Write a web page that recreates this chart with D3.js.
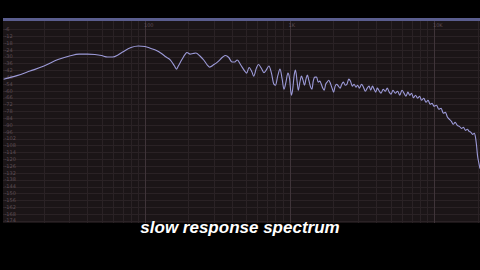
<!DOCTYPE html>
<html>
<head>
<meta charset="utf-8">
<script src="https://cdn.jsdelivr.net/npm/d3@7"></script>
<style>
  html, body { margin: 0; padding: 0; background: #000; overflow: hidden; }
</style>
</head>
<body>
<div id="chart"></div>
<script>
// Spectrum readings: frequency (Hz) and level (dB)
const freqs = [10.5, 13, 16, 20, 25, 30, 35, 40, 45, 50, 55, 60, 65, 70, 80, 90, 100, 110, 120, 130,
  140, 150, 160, 165, 170, 180, 190, 195, 205, 215, 225, 240, 255, 270, 280, 300, 320, 345, 360, 380,
  400, 415, 435, 460, 490, 505, 525, 550, 565, 590, 610, 640, 665, 690, 720, 750, 780, 800, 830, 860,
  890, 915, 945, 975, 1000, 1030, 1050, 1080, 1100, 1130, 1150, 1180, 1210, 1240, 1270, 1300, 1330, 1360, 1400, 1430,
  1460, 1500, 1540, 1580, 1620, 1660, 1700, 1740, 1780, 1820, 1870, 1920, 1970, 2020, 2070, 2120, 2180, 2240, 2300, 2360,
  2430, 2500, 2570, 2640, 2720, 2800, 2880, 2960, 3050, 3150, 3250, 3350, 3450, 3550, 3650, 3750, 3850, 3950, 4050, 4150,
  4300, 4450, 4600, 4750, 4900, 5050, 5200, 5400, 5600, 5800, 6000, 6200, 6400, 6600, 6800, 7000, 7200, 7450, 7700, 7950,
  8200, 8500, 8800, 9100, 9400, 9700, 10000, 10400, 10800, 11200, 11600, 12000, 12400, 12800, 13200, 13600, 14000, 14500, 15000, 15500,
  16000, 16500, 17000, 17500, 18000, 18500, 19000, 19400, 19700, 20000, 20400, 20800];
const levels = [-49.8, -46.7, -42.7, -38.3, -32.6, -29.5, -27.8, -27.8, -28.2, -29.1, -30.4, -30.4, -28.6, -26, -22, -20.7, -21.1, -22.9, -24.7, -27.3,
  -30.4, -33, -38.3, -41, -38.3, -32.6, -27.8, -26.4, -27.8, -27.3, -26.9, -29.5, -33, -37.4, -39.2, -37, -34.4, -30.4, -29.1, -30.8,
  -34.8, -34.8, -33, -37.4, -42.7, -44.5, -39.6, -43.6, -47.1, -40.1, -37, -40.5, -44.1, -41.9, -38.3, -44.5, -54.2, -55.1, -46.7, -41,
  -49.8, -58.6, -52.4, -44.5, -48.9, -63.9, -59.5, -45.4, -41.9, -52.4, -59.5, -52.4, -47.1, -50.7, -55.1, -49.8, -46.3, -50.7, -56.8, -58.6,
  -51.5, -48, -48, -52.4, -51.5, -54.2, -57.7, -59.5, -54.2, -52.4, -50.7, -53.6, -57.7, -61.2, -55.9, -54.2, -55.9, -57.7, -54.2, -52.4,
  -55.1, -54.2, -49.8, -51.5, -55.9, -54.2, -56.8, -55.1, -57.7, -54.2, -56.8, -60.4, -57.7, -55.9, -59.5, -55.9, -58.6, -61.2, -57.7, -59.5,
  -62.1, -58.6, -60.4, -57.7, -61.2, -63, -59.5, -62.1, -60.4, -63.9, -59.5, -62.1, -64.8, -61.2, -63.9, -62.1, -66.1, -63.9, -66.5, -64.8,
  -68.3, -66.5, -70, -68.3, -71.8, -70.9, -73.6, -72.7, -76.2, -75.3, -79.7, -78.9, -83.3, -85, -86.8, -89.4, -87.7, -90.3, -91.2, -93,
  -92.1, -94.7, -93.8, -95.6, -96.5, -98.2, -97.4, -101.3, -108, -116.7, -122.9, -128.2];

const dbTicks = [-6, -12, -18, -24, -30, -36, -42, -48, -54, -60, -66, -72, -78, -84, -90, -96, -102, -108,
  -114, -120, -126, -132, -138, -144, -150, -156, -162, -168, -174];
const gridFreqs = [20, 30, 40, 50, 60, 70, 80, 90, 200, 300, 400, 500, 600, 700, 800, 900,
  2000, 3000, 4000, 5000, 6000, 7000, 8000, 9000, 20000];
const majorFreqs = [100, 1000, 10000];
const majorLabels = ["100", "1K", "10K"];

const width = 480, height = 270;
const plot = { left: 3, right: 480, top: 21, bottom: 223 };

const svg = d3.select("#chart").append("svg")
  .attr("width", width)
  .attr("height", height);

svg.append("rect").attr("width", width).attr("height", height).attr("fill", "#000");

// log frequency, linear dB
const x = d3.scaleLog().domain([10, 20000]).range([0.5, 477.5]);
const y = d3.scaleLinear().domain([0, -176]).range([22.4, 223]);

// plot background + top bar
svg.append("rect")
  .attr("x", plot.left).attr("y", plot.top)
  .attr("width", plot.right - plot.left).attr("height", plot.bottom - plot.top)
  .attr("fill", "#1b1517");
svg.append("rect")
  .attr("x", plot.left).attr("y", 18)
  .attr("width", plot.right - plot.left).attr("height", 3)
  .attr("fill", "#5a5d8e");

const grid = svg.append("g");

grid.selectAll(".hgrid")
  .data(dbTicks)
  .join("line")
  .attr("x1", plot.left).attr("x2", plot.right)
  .attr("y1", d => Math.round(y(d)) + 0.5).attr("y2", d => Math.round(y(d)) + 0.5)
  .attr("stroke", "#2a2225");

grid.selectAll(".vgrid")
  .data(gridFreqs)
  .join("line")
  .attr("x1", d => Math.round(x(d)) + 0.5).attr("x2", d => Math.round(x(d)) + 0.5)
  .attr("y1", plot.top).attr("y2", plot.bottom)
  .attr("stroke", "#2a2225");

grid.selectAll(".vmajor")
  .data(majorFreqs)
  .join("line")
  .attr("x1", d => Math.round(x(d)) + 0.5).attr("x2", d => Math.round(x(d)) + 0.5)
  .attr("y1", plot.top).attr("y2", plot.bottom)
  .attr("stroke", "#3f3439");

// axis labels (tiny, dim)
svg.selectAll(".ylab")
  .data(dbTicks)
  .join("text")
  .attr("x", 4.5)
  .attr("y", d => y(d))
  .attr("dy", "0.35em")
  .attr("fill", "#5e4e56")
  .style("font-family", "DejaVu Sans, sans-serif")
  .style("font-size", "5px")
  .text(d => d);

svg.selectAll(".xlab")
  .data(majorFreqs)
  .join("text")
  .attr("x", d => x(d) - 1)
  .attr("y", 27)
  .attr("fill", "#5e4e56")
  .style("font-family", "DejaVu Sans, sans-serif")
  .style("font-size", "5px")
  .text((d, i) => majorLabels[i]);

// spectrum curve
svg.append("clipPath").attr("id", "plotclip")
  .append("rect")
  .attr("x", plot.left).attr("y", plot.top)
  .attr("width", plot.right - plot.left).attr("height", plot.bottom - plot.top);

const line = d3.line()
  .x((d, i) => x(freqs[i]))
  .y(d => y(d))
  .curve(d3.curveMonotoneX);

svg.append("path")
  .datum(levels)
  .attr("clip-path", "url(#plotclip)")
  .attr("d", line)
  .attr("fill", "none")
  .attr("stroke", "#9c9ad8")
  .attr("stroke-width", 1.1);

// caption
svg.append("text")
  .attr("x", 240)
  .attr("y", 233)
  .attr("text-anchor", "middle")
  .attr("fill", "#fff")
  .style("font-family", "Liberation Sans, Arial, sans-serif")
  .style("font-weight", "bold")
  .style("font-style", "italic")
  .style("font-size", "17px")
  .text("slow response spectrum");
</script>
</body>
</html>
